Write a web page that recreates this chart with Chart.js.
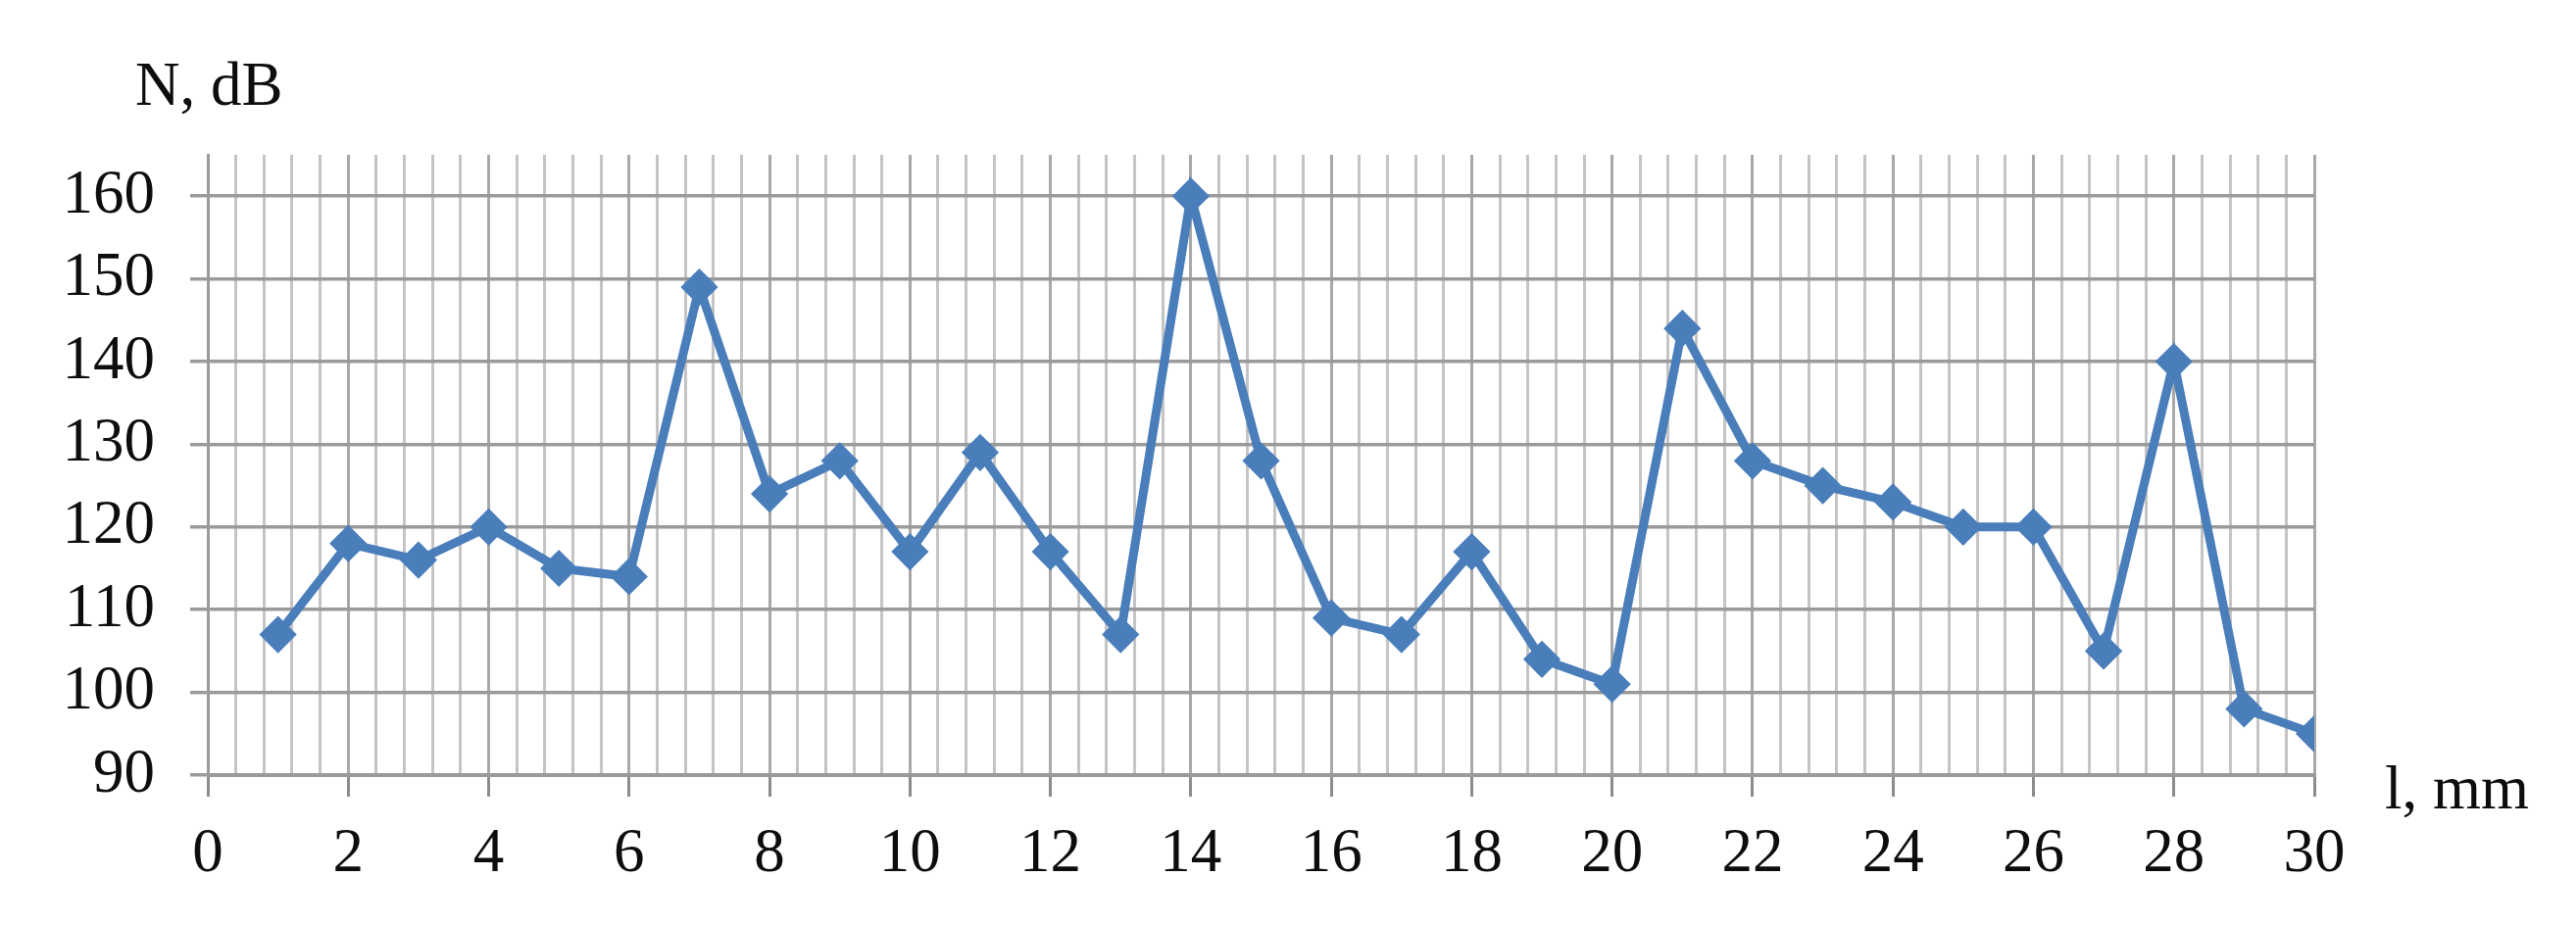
<!DOCTYPE html>
<html>
<head>
<meta charset="utf-8">
<style>
  html, body { margin: 0; padding: 0; background: #fff; }
  #myChart { display: block; }
</style>
</head>
<body>
<canvas id="myChart" width="2628" height="944"></canvas>
<script src="https://cdn.jsdelivr.net/npm/chart.js"></script>
<script>
// distance along the sample, mm
const positions = [1, 2, 3, 4, 5, 6, 7, 8, 9, 10, 11, 12, 13, 14, 15,
  16, 17, 18, 19, 20, 21, 22, 23, 24, 25, 26, 27, 28, 29, 30];
// noise level, dB
const noiseLevels = [107, 118, 116, 120, 115, 114, 149, 124, 128, 117, 129, 117, 107, 160, 128,
  109, 107, 117, 104, 101, 144, 128, 125, 123, 120, 120, 105, 140, 98, 95];
const xAxisName = 'l, mm';
const yAxisName = 'N, dB';

const lineColor = '#4A7EBB';
const labelFont = {family: "'Liberation Serif', 'Times New Roman', serif", size: 63};

const isMajor = v => Math.abs(v / 2 - Math.round(v / 2)) < 1e-6;

// axis names are written next to the axes, not along them
const axisNames = {
  id: 'axisNames',
  afterDraw(chart) {
    const c = chart.ctx;
    c.save();
    c.font = `${labelFont.size}px ${labelFont.family}`;
    c.fillStyle = '#0d0d0d';
    c.textAlign = 'left';
    c.textBaseline = 'alphabetic';
    c.fillText(yAxisName, 138, 107);
    c.fillText(xAxisName, 2433, 825);
    c.restore();
  },
};

const ctx = document.getElementById('myChart');

new Chart(ctx, {
  type: 'line',
  data: {
    datasets: [
      {
        label: yAxisName,
        data: positions.map((x, i) => ({x: x, y: noiseLevels[i]})),
        borderColor: lineColor,
        backgroundColor: lineColor,
        borderWidth: 9,
        pointStyle: 'rectRot',
        pointRadius: 17,
        pointBorderWidth: 3,
        tension: 0,
      },
    ],
  },
  plugins: [axisNames],
  options: {
    responsive: false,
    animation: false,
    events: [],
    plugins: {
      legend: {display: false},
      tooltip: {enabled: false},
    },
    layout: {
      padding: {
        left: 0,
        top: 158,
        right: 267,
        bottom: 0,
      },
    },
    scales: {
      x: {
        type: 'linear',
        min: 0,
        max: 30,
        afterFit: scale => {
          scale.height = 153;
        },
        ticks: {
          stepSize: 0.4,
          autoSkip: false,
          maxRotation: 0,
          padding: 22,
          color: '#0d0d0d',
          font: labelFont,
          callback: v => (isMajor(v) ? String(Math.round(v)) : ''),
        },
        grid: {
          color: c => (c.tick && isMajor(c.tick.value) ? '#a8a8a8' : '#c4c4c4'),
          tickColor: c => (c.tick && isMajor(c.tick.value) ? '#8c8c8c' : 'rgba(0,0,0,0)'),
          lineWidth: 3,
          tickLength: 22,
          tickWidth: 3,
        },
        border: {
          color: '#9a9a9a',
          width: 3,
        },
      },
      y: {
        min: 90,
        max: 165,
        afterFit: scale => {
          scale.width = 212;
        },
        ticks: {
          stepSize: 10,
          includeBounds: false,
          padding: 36,
          color: '#0d0d0d',
          font: labelFont,
        },
        grid: {
          color: '#9a9a9a',
          lineWidth: 3.5,
          tickLength: 18,
        },
        border: {
          color: '#9a9a9a',
          width: 3,
        },
      },
    },
  },
});
</script>
</body>
</html>
